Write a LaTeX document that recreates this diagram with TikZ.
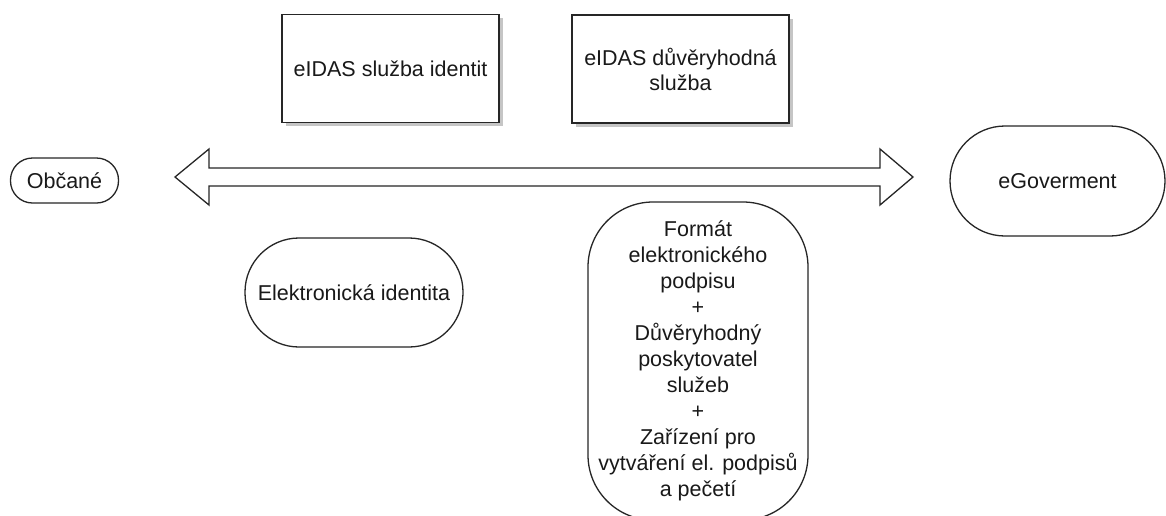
\documentclass[tikz,border=0pt]{standalone}
\usepackage{fontspec}
\setmainfont{Liberation Sans}
\usetikzlibrary{shadows}
\begin{document}
\begin{tikzpicture}[x=1pt,y=-1pt,
  every node/.style={font=\fontsize{21.5}{25}\selectfont, text=black!90, inner sep=0pt, align=center},
  outline/.style={draw=black!85, line width=1.3pt},
  servicebox/.style={outline, fill=white, minimum width=217pt, minimum height=108pt,
    drop shadow={shadow xshift=3.5pt, shadow yshift=-3.5pt, fill=black!25, opacity=0.9}},
  pill/.style={outline, fill=white, rounded corners=#1},
  flow/.style={outline, fill=white, line join=miter}
]
\useasboundingbox (0,0) rectangle (1166,515);

% eIDAS service boxes
\node[servicebox] (ident) at (390.5,68.5) {eIDAS služba identit};
\node[servicebox] (trust) at (680.5,69) {eIDAS důvěryhodná\\služba};

% Endpoints
\node[pill=22pt, minimum width=108pt, minimum height=45pt] (citizens) at (64.5,180.5) {Občané};
\node[pill=55pt, minimum width=215pt, minimum height=110pt] (egov) at (1057.5,181) {eGoverment};

% Supporting building blocks
\node[pill=54pt, minimum width=218pt, minimum height=109pt] (eid) at (354,292.5) {Elektronická identita};
\node[pill=65pt, minimum width=220pt, minimum height=318pt,
  font=\fontsize{21.5}{26}\selectfont] (sig) at (698,361)
  {Formát\\elektronického\\podpisu\\+\\Důvěryhodný\\poskytovatel\\služeb\\+\\Zařízení pro\\vytváření el. podpisů\\a pečetí};

% Double-headed block arrow between citizens and eGovernment
\coordinate (ltip) at (175,177);
\coordinate (rtip) at (913,177);
\draw[flow] (ltip) -- (209,149) -- (209,168) -- (880,168) -- (880,149) -- (rtip)
  -- (880,205) -- (880,186) -- (209,186) -- (209,205) -- cycle;
\end{tikzpicture}
\end{document}
